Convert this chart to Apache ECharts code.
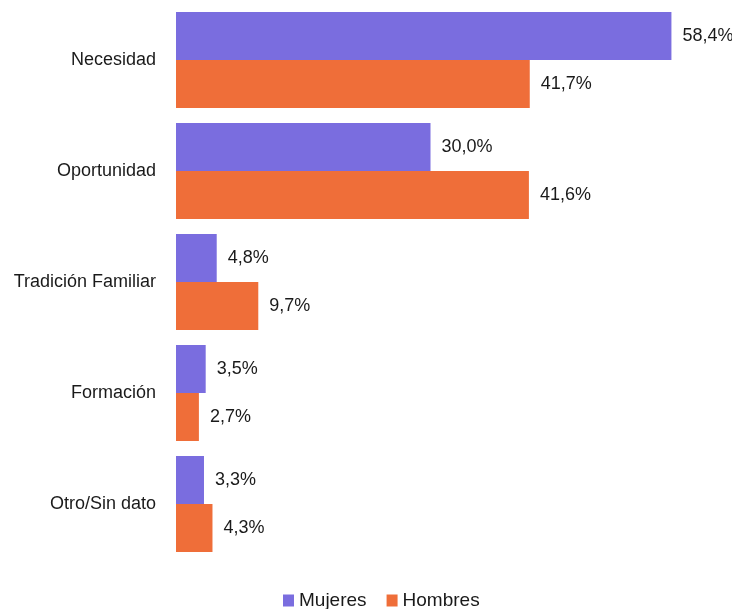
<!DOCTYPE html>
<html>
<head>
<meta charset="utf-8">
<script src="https://cdn.jsdelivr.net/npm/echarts@6/dist/echarts.min.js"></script>
<style>
  html, body { margin: 0; padding: 0; background: #fff; }
  #chart { width: 732px; height: 609px; }
</style>
</head>
<body>
<div id="chart"></div>
<script>
// categorias de arriba hacia abajo
const categorias = ['Necesidad', 'Oportunidad', 'Tradición Familiar', 'Formación', 'Otro/Sin dato'];
const mujeres = [58.4, 30.0, 4.8, 3.5, 3.3];
const hombres = [41.7, 41.6, 9.7, 2.7, 4.3];

const fuente = '"Liberation Sans Narrow", "Liberation Sans", sans-serif';

const chart = echarts.init(document.getElementById('chart'));

const etiqueta = {
    show: true,
    position: 'right',
    distance: 11,
    color: '#1a1a1a',
    fontSize: 18,
    fontFamily: fuente,
    formatter: p => p.value.toFixed(1).replace('.', ',') + '%'
};

chart.setOption({
    animation: false,
    legend: {
        top: 586,
        left: 278,
        itemWidth: 11,
        itemHeight: 12,
        itemGap: 20,
        icon: 'rect',
        textStyle: { fontSize: 19, fontFamily: fuente, color: '#1a1a1a' },
        data: ['Mujeres', 'Hombres']
    },
    grid: { left: 176, right: 47, top: 4.5, bottom: 49.5, containLabel: false, outerBoundsMode: 'none' },
    xAxis: {
        type: 'value',
        min: 0,
        max: 60,
        show: false
    },
    yAxis: {
        type: 'category',
        inverse: true,
        data: categorias,
        axisLine: { show: false },
        axisTick: { show: false },
        axisLabel: { fontSize: 18, fontFamily: fuente, color: '#1a1a1a', margin: 20 }
    },
    series: [
        {
            name: 'Mujeres',
            type: 'bar',
            data: mujeres,
            barGap: '0%',
            barCategoryGap: '13.5%',
            itemStyle: { color: '#7A6DDF' },
            label: etiqueta
        },
        {
            name: 'Hombres',
            type: 'bar',
            data: hombres,
            itemStyle: { color: '#EF6E39' },
            label: etiqueta
        }
    ]
});
</script>
</body>
</html>
